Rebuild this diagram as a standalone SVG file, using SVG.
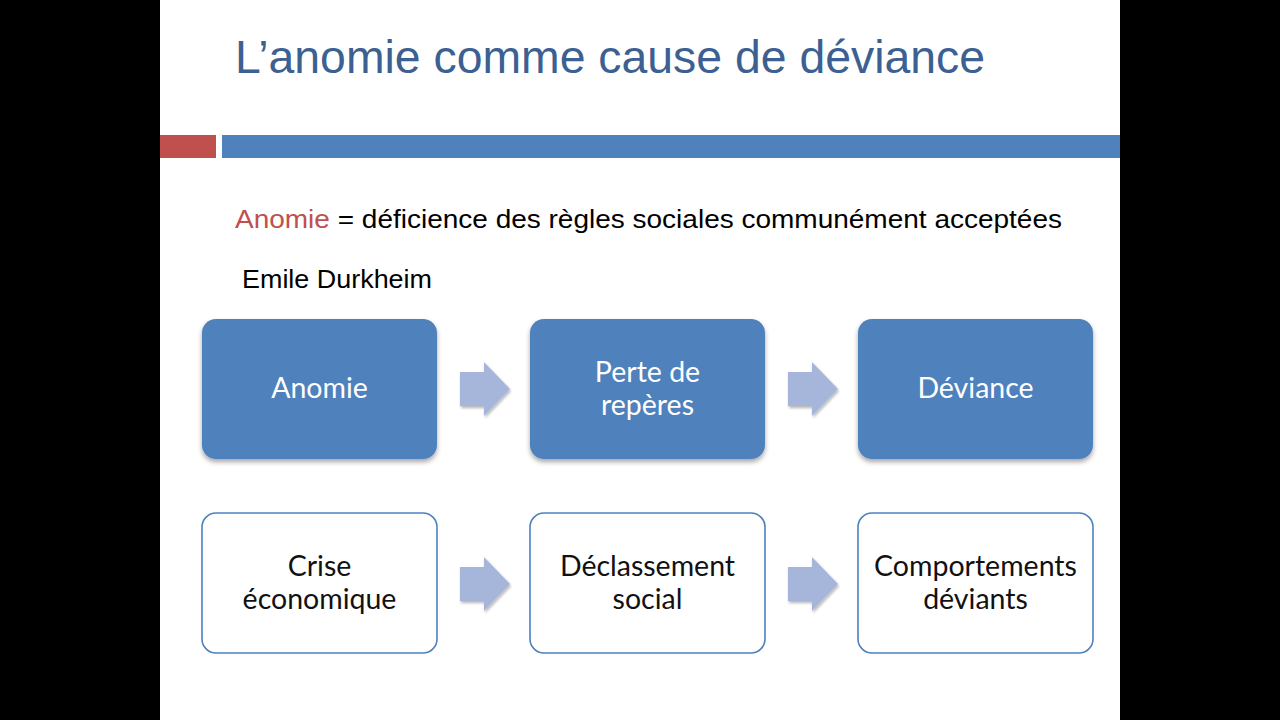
<svg xmlns="http://www.w3.org/2000/svg" width="1280" height="720" viewBox="0 0 1280 720">
<defs>
<style>
.title{font-family:"Liberation Sans",Arial,sans-serif;font-size:46px;fill:#3b6091}
.body{font-family:"Liberation Sans",Arial,sans-serif;font-size:25px;fill:#000}
.lbl{font-family:"Lato","Liberation Sans",sans-serif;font-size:28.5px;text-anchor:middle}
.w{fill:#fff}
.k{fill:#111}
.fbox{fill:#4f81bd}
.obox{fill:#fff;stroke:#4f81bd;stroke-width:1.6}
.arr{fill:#a6b6da}
</style>
<filter id="sh" x="-10%" y="-10%" width="130%" height="130%">
<feGaussianBlur in="SourceAlpha" stdDeviation="2.5"/>
<feOffset dx="0" dy="3" result="b"/>
<feComponentTransfer><feFuncA type="linear" slope="0.35"/></feComponentTransfer>
<feMerge><feMergeNode/><feMergeNode in="SourceGraphic"/></feMerge>
</filter>
<filter id="sh2" x="-10%" y="-10%" width="130%" height="130%">
<feGaussianBlur in="SourceAlpha" stdDeviation="1.5"/>
<feOffset dx="1" dy="2" result="b"/>
<feComponentTransfer><feFuncA type="linear" slope="0.3"/></feComponentTransfer>
<feMerge><feMergeNode/><feMergeNode in="SourceGraphic"/></feMerge>
</filter>
<path id="arrow" d="M0,12 H24 V2 L50,29 L24,56 V46 H0 Z"/>
</defs>
<rect x="0" y="0" width="1280" height="720" fill="#000"/>
<rect x="160" y="0" width="960" height="720" fill="#fff"/>
<text class="title" x="235" y="73" textLength="750" lengthAdjust="spacingAndGlyphs">L’anomie comme cause de déviance</text>
<rect x="160" y="135" width="56" height="23" fill="#c0504d"/>
<rect x="222" y="135" width="898" height="23" fill="#4f81bd"/>
<text class="body" x="235" y="228" textLength="827" lengthAdjust="spacingAndGlyphs"><tspan fill="#c0504d">Anomie</tspan> = déficience des règles sociales communément acceptées</text>
<text class="body" x="242" y="288" textLength="190" lengthAdjust="spacingAndGlyphs">Emile Durkheim</text>
<g id="connectors">
<use href="#arrow" class="arr" x="460" y="360" filter="url(#sh2)"/>
<use href="#arrow" class="arr" x="788" y="360" filter="url(#sh2)"/>
<use href="#arrow" class="arr" x="460" y="555" filter="url(#sh2)"/>
<use href="#arrow" class="arr" x="788" y="555" filter="url(#sh2)"/>
</g>
<g id="n1"><rect class="fbox" x="202" y="319" width="235" height="140" rx="14" filter="url(#sh)"/><text class="lbl w" x="319.5" y="398">Anomie</text></g>
<g id="n2"><rect class="fbox" x="530" y="319" width="235" height="140" rx="14" filter="url(#sh)"/><text class="lbl w" x="647.5" y="382">Perte de</text><text class="lbl w" x="647.5" y="415">repères</text></g>
<g id="n3"><rect class="fbox" x="858" y="319" width="235" height="140" rx="14" filter="url(#sh)"/><text class="lbl w" x="975.5" y="398">Déviance</text></g>
<g id="n4"><rect class="obox" x="202" y="513" width="235" height="140" rx="14"/><text class="lbl k" x="319.5" y="576">Crise</text><text class="lbl k" x="319.5" y="609">économique</text></g>
<g id="n5"><rect class="obox" x="530" y="513" width="235" height="140" rx="14"/><text class="lbl k" x="647.5" y="576">Déclassement</text><text class="lbl k" x="647.5" y="609">social</text></g>
<g id="n6"><rect class="obox" x="858" y="513" width="235" height="140" rx="14"/><text class="lbl k" x="975.5" y="576">Comportements</text><text class="lbl k" x="975.5" y="609">déviants</text></g>
</svg>
